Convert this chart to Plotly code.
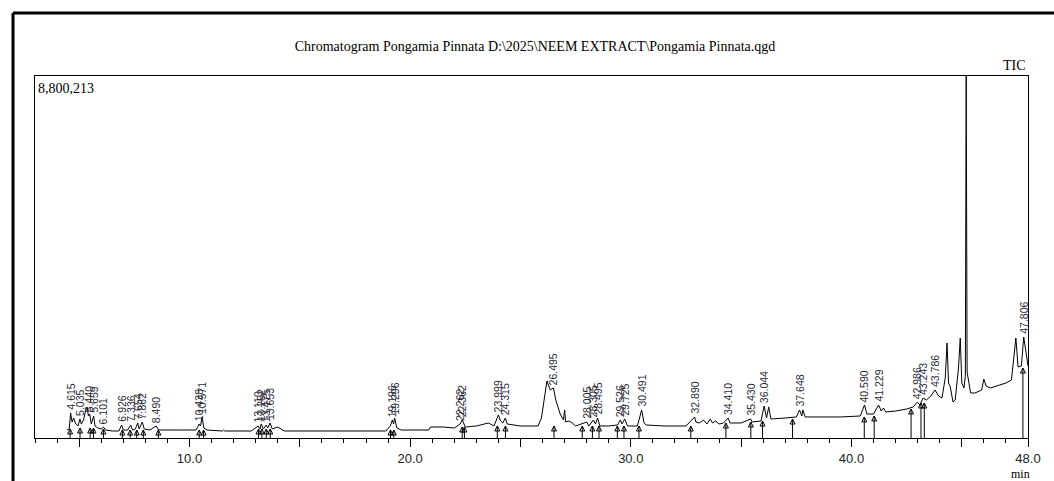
import numpy as np
import plotly.graph_objects as go

# ---------------- data ----------------
ret_time = [
    4.45, 4.55, 4.615, 4.68, 4.75, 4.85, 4.95, 5.035, 5.10, 5.20, 5.30, 5.36, 5.42, 5.48,
    5.55, 5.659, 5.72, 5.85, 6.00, 6.101, 6.20, 6.50, 6.80, 6.926, 7.00, 7.20, 7.336, 7.42,
    7.55, 7.654, 7.72, 7.862, 7.95, 8.20, 8.49, 8.60, 9.50, 10.30, 10.438, 10.50, 10.571,
    10.65, 10.80, 11.50, 11.55, 11.60, 12.80, 13.11, 13.20, 13.252, 13.35, 13.475, 13.55,
    13.653, 13.75, 14.00, 14.15, 14.30, 18.90, 19.10, 19.196, 19.25, 19.296, 19.40, 19.60,
    20.85, 20.92, 21.50, 22.00, 22.262, 22.362, 22.50, 23.00, 23.30, 23.55, 23.80, 23.999,
    24.10, 24.20, 24.315, 24.40, 25.00, 25.80, 25.95, 26.10, 26.20, 26.35, 26.495, 26.60,
    26.80, 26.95, 27.00, 27.05, 27.20, 27.35, 27.50, 28.005, 28.10, 28.305, 28.40, 28.495,
    28.60, 29.00, 29.40, 29.526, 29.60, 29.725, 29.85, 30.30, 30.491, 30.60, 30.70, 31.50,
    32.50, 32.89, 32.95, 33.10, 33.30, 33.45, 33.60, 33.70, 33.85, 34.00, 34.20, 34.41,
    34.50, 35.00, 35.43, 35.50, 35.90, 36.044, 36.15, 36.25, 36.35, 37.00, 37.50, 37.648,
    37.75, 37.80, 37.90, 38.50, 39.50, 40.40, 40.59, 40.70, 41.00, 41.229, 41.35, 41.45,
    41.55, 42.00, 42.50, 42.80, 42.986, 43.10, 43.243, 43.40, 43.60, 43.786, 43.95, 44.10,
    44.25, 44.33, 44.40, 44.48, 44.60, 44.70, 44.85, 44.93, 45.00, 45.10, 45.16, 45.20,
    45.24, 45.30, 45.40, 45.60, 45.90, 46.00, 46.10, 46.30, 46.60, 47.00, 47.25, 47.45,
    47.55, 47.70, 47.806, 47.90, 48.00,
]
intensity = [
    194000, 219000, 608000, 389000, 486000, 340000, 292000, 462000, 340000, 438000, 681000,
    754000, 535000, 583000, 340000, 535000, 292000, 243000, 219000, 267000, 194000, 170000,
    170000, 316000, 194000, 194000, 316000, 194000, 219000, 365000, 219000, 389000, 219000,
    194000, 292000, 194000, 194000, 194000, 340000, 292000, 511000, 243000, 194000, 170000,
    194000, 170000, 170000, 292000, 219000, 340000, 219000, 316000, 243000, 365000, 219000,
    267000, 219000, 170000, 170000, 292000, 438000, 340000, 486000, 243000, 194000, 194000,
    267000, 267000, 243000, 340000, 438000, 267000, 292000, 340000, 365000, 292000, 559000,
    413000, 365000, 486000, 340000, 292000, 292000, 486000, 1094000, 1386000, 1167000,
    1216000, 924000, 583000, 438000, 681000, 389000, 413000, 365000, 292000, 389000, 292000,
    438000, 340000, 486000, 292000, 292000, 316000, 438000, 340000, 462000, 292000, 292000,
    681000, 365000, 316000, 292000, 292000, 511000, 389000, 365000, 438000, 340000, 462000,
    365000, 413000, 340000, 365000, 486000, 365000, 365000, 462000, 389000, 413000, 778000,
    486000, 754000, 462000, 486000, 511000, 681000, 535000, 681000, 511000, 511000, 511000,
    535000, 802000, 583000, 583000, 802000, 656000, 729000, 632000, 656000, 705000, 754000,
    875000, 802000, 972000, 924000, 1021000, 1167000, 1021000, 972000, 1459000, 2309000,
    1337000, 1240000, 875000, 924000, 1702000, 2431000, 1337000, 1216000, 1500000, 8800213,
    1600000, 1410000, 1094000, 1094000, 1167000, 1434000, 1264000, 1216000, 1264000,
    1337000, 1410000, 2431000, 1726000, 1750000, 2455000, 2066000, 1750000,
]

peak_labels = [
    4.615, 5.035, 5.440, 5.659, 6.101, 6.926, 7.336, 7.654, 7.862, 8.490, 10.438, 10.571,
    13.110, 13.252, 13.475, 13.653, 19.196, 19.296, 22.262, 22.362, 23.999, 24.315, 26.495,
    28.005, 28.305, 28.495, 29.526, 29.725, 30.491, 32.890, 34.410, 35.430, 36.044, 37.648,
    40.590, 41.229, 42.986, 43.243, 43.786, 47.806,
]

boundary_time = [
    4.59, 5.04, 5.50, 5.65, 6.10, 6.96, 7.31, 7.61, 7.91, 8.59, 10.44, 10.64, 13.13, 13.28,
    13.48, 13.66, 19.11, 19.26, 22.36, 22.46, 23.95, 24.32, 26.52, 27.80, 28.26, 28.56,
    29.39, 29.69, 30.37, 32.72, 34.31, 35.44, 35.97, 37.33, 40.58, 41.03, 42.70, 43.15,
    43.30, 47.77,
]
boundary_level = [
    219000, 243000, 243000, 243000, 219000, 194000, 194000, 194000, 194000, 194000, 194000,
    194000, 219000, 219000, 219000, 219000, 194000, 194000, 267000, 267000, 292000, 292000,
    292000, 292000, 292000, 292000, 292000, 292000, 292000, 292000, 365000, 389000, 413000,
    462000, 511000, 535000, 705000, 851000, 851000, 1700000,
]

y_max = 8800213
x_range = [3.0, 48.0]
x_tickvals = [5, 10, 15, 20, 25, 30, 35, 40, 45, 48]
x_ticktext = ["", "10.0", "", "20.0", "", "30.0", "", "40.0", "", "48.0"]

title_text = "Chromatogram Pongamia Pinnata D:\\2025\\NEEM EXTRACT\\Pongamia Pinnata.qgd"

# ---------------- figure ----------------
W, H = 1054, 481
ML, MR, MT, MB = 35, 26, 76, 43
pw, ph = W - ML - MR, H - MT - MB


def px_x(p):
    return (p - ML) / pw


def px_y(p):
    return (H - MB - p) / ph


fig = go.Figure()

fig.add_trace(go.Scatter(
    x=ret_time, y=intensity, mode="lines",
    line=dict(color="black", width=1), hoverinfo="skip", showlegend=False,
))

bx, by = [], []
for t, h in zip(boundary_time, boundary_level):
    bx += [t, t, None]
    by += [0, h, None]
fig.add_trace(go.Scatter(
    x=bx, y=by, mode="lines", line=dict(color="black", width=1),
    hoverinfo="skip", showlegend=False,
))
fig.add_trace(go.Scatter(
    x=boundary_time, y=boundary_level, mode="markers",
    marker=dict(symbol="arrow-up-open", size=5, color="black",
                line=dict(color="black", width=1)),
    hoverinfo="skip", showlegend=False, cliponaxis=False,
))

label_font = dict(family="Liberation Sans, Arial", size=10.5, color="#2a2a35")
for t in peak_labels:
    h = float(np.interp(t, ret_time, intensity))
    fig.add_annotation(
        x=t, y=h, xref="x", yref="y", text=f"{t:.3f}", textangle=-90,
        showarrow=False, xanchor="center", yanchor="bottom", yshift=2,
        borderpad=0, font=label_font,
    )

serif = "Liberation Serif, Times New Roman, serif"
fig.add_annotation(x=1, y=1, xref="paper", yref="paper", text="TIC", showarrow=False,
                   xanchor="right", yanchor="bottom", yshift=1,
                   font=dict(family=serif, size=14, color="black"))
fig.add_annotation(x=0, y=1, xref="paper", yref="paper", text=f"{y_max:,}", showarrow=False,
                   xanchor="left", yanchor="top", xshift=1, yshift=-3,
                   font=dict(family=serif, size=14, color="black"))
fig.add_annotation(x=x_range[1], y=px_y(465), xref="x", yref="paper", text="min", showarrow=False,
                   xanchor="center", yanchor="top", xshift=-8,
                   font=dict(family=serif, size=12, color="black"))

# outer frame (thick black lines at the left and top)
fig.add_shape(type="line", xref="paper", yref="paper", x0=px_x(13), x1=px_x(W + 5),
              y0=px_y(13), y1=px_y(13), line=dict(color="black", width=3))
fig.add_shape(type="line", xref="paper", yref="paper", x0=px_x(13), x1=px_x(13),
              y0=px_y(13), y1=px_y(H + 5), line=dict(color="black", width=3))

fig.update_layout(
    width=W, height=H,
    margin=dict(l=ML, r=MR, t=MT, b=MB, pad=0),
    paper_bgcolor="white", plot_bgcolor="white",
    showlegend=False,
    title=dict(text=title_text, x=535 / W, y=1 - 46 / H, xanchor="center", yanchor="middle",
               xref="container", yref="container",
               font=dict(family=serif, size=14, color="black")),
    xaxis=dict(
        range=x_range, showgrid=False, zeroline=False,
        showline=True, linecolor="black", linewidth=1, mirror=True,
        tickmode="array", tickvals=x_tickvals, ticktext=x_ticktext,
        ticks="outside", ticklen=8, tickwidth=1, tickcolor="black",
        tickfont=dict(family="Liberation Sans, Arial", size=13, color="#222"),
        minor=dict(tickmode="linear", tick0=0, dtick=1, ticks="outside", ticklen=4,
                   tickwidth=1, tickcolor="black", showgrid=False),
    ),
    yaxis=dict(
        range=[0, y_max], showgrid=False, zeroline=False,
        showline=True, linecolor="black", linewidth=1, mirror=True,
        showticklabels=False, ticks="",
    ),
)

fig.write_html(
    "out.html",
    config={"displayModeBar": False, "staticPlot": True},
    post_script="document.body.style.margin='0px';document.body.style.overflow='hidden';",
)
